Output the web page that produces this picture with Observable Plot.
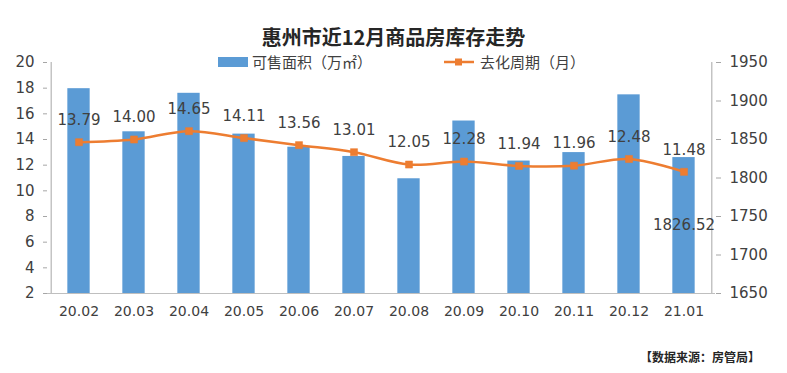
<!DOCTYPE html>
<html>
<head>
<meta charset="utf-8">
<script src="https://cdn.jsdelivr.net/npm/d3@7"></script>
<script src="https://cdn.jsdelivr.net/npm/@observablehq/plot@0.6"></script>
<style>
  html, body { margin: 0; padding: 0; background: #fff; }
  #wrap { position: relative; width: 787px; height: 373px; overflow: hidden; font-family: "DejaVu Sans", sans-serif; }
  #wrap svg { position: absolute; left: 0; top: 0; }
  .ov { position: absolute; white-space: nowrap; color: #404040; }
</style>
</head>
<body>
<div id="wrap"></div>
<script>
const months = ["20.02","20.03","20.04","20.05","20.06","20.07","20.08","20.09","20.10","20.11","20.12","21.01"];
const areaValues = [1916, 1860, 1910, 1857, 1840, 1828, 1799, 1874, 1822, 1833, 1908, 1826.52];
const cycleValues = [13.79, 14.00, 14.65, 14.11, 13.56, 13.01, 12.05, 12.28, 11.94, 11.96, 12.48, 11.48];
const leftTicks = [2, 4, 6, 8, 10, 12, 14, 16, 18, 20];
const rightTicks = [1650, 1700, 1750, 1800, 1850, 1900, 1950];
const barLabelIndex = [11];

const L0 = 2, L1 = 20, R0 = 1650, R1 = 1950;
const toLeft = v => L0 + (v - R0) / (R1 - R0) * (L1 - L0);
const fromLeft = v => R0 + (v - L0) / (L1 - L0) * (R1 - R0);

const data = months.map((m, i) => ({month: m, area: areaValues[i], cycle: cycleValues[i]}));

const W = 787, H = 373, mL = 47, mR = 72, mT = 62, mB = 80;
const step = (W - mL - mR) / months.length;
const barW = 23;
const inset = (step - barW) / 2;

const chart = Plot.plot({
  width: W, height: H,
  marginLeft: mL, marginRight: mR, marginTop: mT, marginBottom: mB,
  style: {fontFamily: "DejaVu Sans, sans-serif", fontSize: "14px", color: "#404040", background: "transparent"},
  x: {domain: months, paddingInner: 0, paddingOuter: 0, label: null},
  y: {domain: [L0, L1], label: null},
  marks: [
    Plot.barY(data, {x: "month", y1: L0, y2: d => toLeft(d.area), fill: "#5B9BD5", insetLeft: inset, insetRight: inset}),
    Plot.ruleY([L0], {stroke: "#BFBFBF", strokeWidth: 1}),
    Plot.ruleX([months[0]], {y1: L0, y2: L1, dx: -step / 2, stroke: "#A6A6A6", strokeWidth: 1}),
    Plot.ruleX([months[months.length - 1]], {y1: L0, y2: L1, dx: step / 2, stroke: "#A6A6A6", strokeWidth: 1}),
    Plot.axisY(leftTicks, {anchor: "left", tickSize: 4, tickPadding: 9, stroke: "#A6A6A6", fill: "#404040", fontSize: 15}),
    Plot.axisY(rightTicks.map(toLeft), {anchor: "right", tickSize: 5, tickPadding: 9, stroke: "#A6A6A6", fill: "#404040", fontSize: 15, tickFormat: d => String(Math.round(fromLeft(d)))}),
    Plot.axisX({tickSize: 0, tickPadding: 13, fill: "#404040", fontSize: 14}),
    Plot.lineY(data, {x: "month", y: "cycle", stroke: "#ED7D31", strokeWidth: 2.5, curve: "catmull-rom"}),
    Plot.dot(data, {x: "month", y: "cycle", symbol: "square", r: 4, fill: "#ED7D31", stroke: "#ED7D31", strokeWidth: 0.5}),
    Plot.text(data, {x: "month", y: "cycle", text: d => d.cycle.toFixed(2), dy: -22, fontSize: 15, fill: "#404040"}),
    Plot.text(barLabelIndex.map(i => data[i]), {x: "month", y: d => (L0 + toLeft(d.area)) / 2, text: d => d.area.toFixed(2), fontSize: 15, fill: "#404040"})
  ]
});

const wrap = document.getElementById("wrap");
wrap.appendChild(chart);

function addText(txt, css) {
  const d = document.createElement("div");
  d.className = "ov";
  d.textContent = txt;
  Object.assign(d.style, css);
  wrap.appendChild(d);
  return d;
}
const cjk = '"Noto Sans CJK SC", sans-serif';
addText("惠州市近12月商品房库存走势", {left: "0px", width: "787px", textAlign: "center", top: "22px", fontSize: "20px", fontWeight: "bold", fontFamily: cjk, color: "#262626", paddingLeft: "0px"});

// legend
const sw1 = document.createElement("div");
Object.assign(sw1.style, {position: "absolute", left: "218px", top: "57px", width: "30px", height: "10px", background: "#5B9BD5"});
wrap.appendChild(sw1);
addText("可售面积（万㎡）", {left: "252px", top: "51px", fontSize: "15px", fontFamily: cjk, lineHeight: "22px"});
const sw2 = document.createElementNS("http://www.w3.org/2000/svg", "svg");
sw2.setAttribute("width", "30"); sw2.setAttribute("height", "12");
sw2.style.position = "absolute"; sw2.style.left = "444px"; sw2.style.top = "56px";
sw2.innerHTML = '<line x1="0" y1="6" x2="30" y2="6" stroke="#ED7D31" stroke-width="2.5"/><rect x="11" y="2.5" width="7" height="7" fill="#ED7D31"/>';
wrap.appendChild(sw2);
addText("去化周期（月）", {left: "480px", top: "51px", fontSize: "15px", fontFamily: cjk, lineHeight: "22px"});

addText("【数据来源：房管局】", {left: "640px", top: "348px", fontSize: "12px", fontWeight: "bold", fontFamily: cjk, color: "#262626", lineHeight: "18px"});
</script>
</body>
</html>
